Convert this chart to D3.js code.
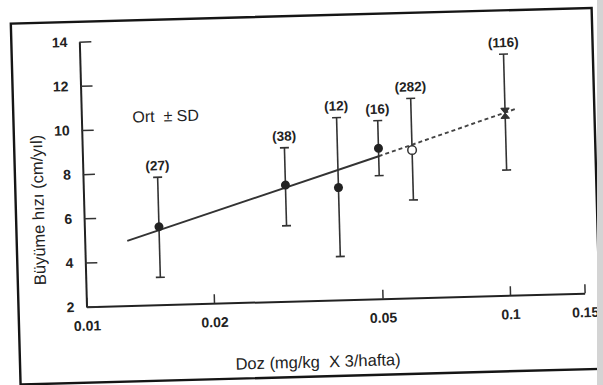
<!DOCTYPE html>
<html>
<head>
<meta charset="utf-8">
<script src="https://cdn.jsdelivr.net/npm/d3@7"></script>
<style>
  html, body { margin: 0; padding: 0; background: #fff; }
  svg { display: block; }
  text { font-family: "Liberation Sans", Arial, sans-serif; fill: #222; }
</style>
</head>
<body>
<svg id="chart" width="603" height="385"></svg>
<script>
// ---- data ----
const doses  = [0.015, 0.03, 0.04, 0.05, 0.06, 0.1];
const means  = [5.53, 7.26, 7.08, 8.81, 8.69, 10.24];
const upper  = [7.77, 8.95, 10.25, 10.06, 11.03, 12.92];
const lower  = [3.24, 5.42, 3.96, 7.57, 6.43, 7.67];
const counts = [27, 38, 12, 16, 282, 116];
const markerTypes = ["filled", "filled", "filled", "filled", "open", "hourglass"];

const fitSolidDose = [0.0126, 0.05];
const fitSolidRate = [4.93, 8.45];
const fitDashDose  = [0.05, 0.107];
const fitDashRate  = [8.45, 10.45];

const xTickValues = [0.01, 0.02, 0.05, 0.1, 0.15];
const xTickLabels = ["0.01", "0.02", "0.05", "0.1", "0.15"];
const yTickValues = [2, 4, 6, 8, 10, 12, 14];

const xTitle = "Doz (mg/kg  X 3/hafta)";
const yTitle = "Büyüme hızı (cm/yıl)";
const noteText = "Ort  ± SD";

// ---- layout (scanned page is slightly rotated) ----
const svg = d3.select("#chart");
const g = svg.append("g").attr("transform", "translate(86.5,306.7) rotate(-1.55)");

const x = d3.scaleLog().domain([0.01, 0.15]).range([0, 498.3]);
const y = d3.scaleLinear().domain([2, 14]).range([0, -265.1]);

// frame
g.append("rect")
  .attr("x", -68).attr("y", -285)
  .attr("width", 581).attr("height", 361)
  .attr("fill", "none").attr("stroke", "#151515").attr("stroke-width", 2.4);

// x axis
const xAxis = d3.axisBottom(x)
  .tickValues(xTickValues)
  .tickFormat((d, i) => xTickLabels[i])
  .tickSize(-9).tickSizeOuter(0).tickPadding(14);
const gx = g.append("g").call(xAxis);
gx.select(".domain").attr("stroke", "#222").attr("stroke-width", 2);
gx.selectAll(".tick line").attr("stroke", "#333").attr("stroke-width", 1.5);
gx.selectAll(".tick text")
  .attr("font-size", 14).attr("font-weight", "bold")
  .style("font-family", "Liberation Sans, Arial, sans-serif").attr("fill", "#2a2a2a");

// y axis
const yAxis = d3.axisLeft(y)
  .tickValues(yTickValues)
  .tickFormat(d3.format("d"))
  .tickSize(-12).tickSizeOuter(0).tickPadding(12);
const gy = g.append("g").call(yAxis);
gy.select(".domain").attr("stroke", "#222").attr("stroke-width", 2);
gy.selectAll(".tick line").attr("stroke", "#333").attr("stroke-width", 1.5);
gy.selectAll(".tick text")
  .attr("font-size", 14).attr("font-weight", "bold")
  .style("font-family", "Liberation Sans, Arial, sans-serif").attr("fill", "#2a2a2a");

// axis titles
g.append("text")
  .attr("x", 230).attr("y", 67)
  .attr("text-anchor", "middle")
  .attr("font-size", 16.5)
  .style("white-space", "pre")
  .text(xTitle);

g.append("text")
  .attr("transform", "translate(-40,-98) rotate(-90)")
  .attr("text-anchor", "middle")
  .attr("font-size", 16.5)
  .text(yTitle);

g.append("text")
  .attr("x", 51).attr("y", -183)
  .attr("font-size", 16)
  .style("white-space", "pre")
  .text(noteText);

// regression line
const line = d3.line().x(d => x(d[0])).y(d => y(d[1]));
g.append("path")
  .attr("d", line(d3.zip(fitSolidDose, fitSolidRate)))
  .attr("fill", "none").attr("stroke", "#333").attr("stroke-width", 1.9);
g.append("path")
  .attr("d", line(d3.zip(fitDashDose, fitDashRate)))
  .attr("fill", "none").attr("stroke", "#444").attr("stroke-width", 1.9)
  .attr("stroke-dasharray", "4,3");

// error bars
const pts = doses.map((d, i) => ({dose: d, mean: means[i], hi: upper[i], lo: lower[i], n: counts[i], m: markerTypes[i]}));
const eb = g.append("g").selectAll("g").data(pts).join("g");
eb.append("line")
  .attr("x1", d => x(d.dose)).attr("x2", d => x(d.dose))
  .attr("y1", d => y(d.lo)).attr("y2", d => y(d.hi))
  .attr("stroke", "#333").attr("stroke-width", 1.6);
eb.append("line")
  .attr("x1", d => x(d.dose) - 4.5).attr("x2", d => x(d.dose) + 4.5)
  .attr("y1", d => y(d.hi)).attr("y2", d => y(d.hi))
  .attr("stroke", "#333").attr("stroke-width", 1.6);
eb.append("line")
  .attr("x1", d => x(d.dose) - 4.5).attr("x2", d => x(d.dose) + 4.5)
  .attr("y1", d => y(d.lo)).attr("y2", d => y(d.lo))
  .attr("stroke", "#333").attr("stroke-width", 1.6);

// markers
eb.filter(d => d.m === "filled").append("circle")
  .attr("cx", d => x(d.dose)).attr("cy", d => y(d.mean)).attr("r", 4.5)
  .attr("fill", "#222");
eb.filter(d => d.m === "open").append("circle")
  .attr("cx", d => x(d.dose)).attr("cy", d => y(d.mean)).attr("r", 4.3)
  .attr("fill", "#fff").attr("stroke", "#333").attr("stroke-width", 1.5);
eb.filter(d => d.m === "hourglass").append("path")
  .attr("transform", d => `translate(${x(d.dose)},${y(d.mean)})`)
  .attr("d", "M-4,-5H4L-4,5H4Z")
  .attr("fill", "#333").attr("stroke", "#333").attr("stroke-width", 1.2)
  .attr("stroke-linejoin", "round");

// n labels
eb.append("text")
  .attr("x", d => x(d.dose)).attr("y", d => y(d.hi) - 7)
  .attr("text-anchor", "middle")
  .attr("font-size", 13.5).attr("font-weight", "bold")
  .attr("fill", "#2a2a2a")
  .text(d => `(${d.n})`);

// page edge shading on the right
svg.append("rect").attr("x", 597).attr("y", 0).attr("width", 6).attr("height", 385).attr("fill", "#d4d4d4");
</script>
</body>
</html>
